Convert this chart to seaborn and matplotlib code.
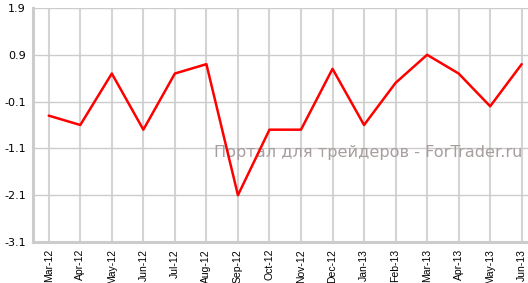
import matplotlib
matplotlib.use("Agg")
import matplotlib.pyplot as plt
import seaborn as sns
import pandas as pd

months = ["Mar-12", "Apr-12", "May-12", "Jun-12", "Jul-12", "Aug-12", "Sep-12", "Oct-12",
          "Nov-12", "Dec-12", "Jan-13", "Feb-13", "Mar-13", "Apr-13", "May-13", "Jun-13"]
values = [-0.4, -0.6, 0.5, -0.7, 0.5, 0.7, -2.1, -0.7, -0.7, 0.6, -0.6, 0.3, 0.9, 0.5, -0.2, 0.7]
yticks = [-3.1, -2.1, -1.1, -0.1, 0.9, 1.9]

df = pd.DataFrame({"month": months, "value": values, "pos": range(len(months))})

sns.set_style("white")
plt.rcParams["font.family"] = ["DejaVu Sans"]

fig = plt.figure(figsize=(5.28, 2.83), dpi=100)
ax = fig.add_axes([33/528, 1 - 242/283, (528 - 33)/528, (242 - 8)/283])

sns.lineplot(data=df, x="pos", y="value", color="#ff0000", linewidth=1.8, ax=ax, zorder=6)

ax.set_xlim(-0.5, 15.2)
ax.set_ylim(-3.1, 1.9)
ax.set_xticks(range(len(months)))
ax.set_xticklabels(months, rotation=90, fontsize=7.5, family="Liberation Sans")
ax.set_yticks(yticks)
ax.set_yticklabels([f"{v:.1f}" for v in yticks], fontsize=8)
ax.set_xlabel("")
ax.set_ylabel("")

ax.grid(True, color="#cccccc", linewidth=1)
ax.xaxis.grid(True, color="#d4d4d4", linewidth=1.5)
ax.set_axisbelow(True)
for s in ["top", "right"]:
    ax.spines[s].set_visible(False)
for s in ["left", "bottom"]:
    ax.spines[s].set_color("#cccccc")
    ax.spines[s].set_linewidth(2.2)
ax.tick_params(axis="both", which="both", length=3.5, width=1, color="#cccccc",
               labelcolor="black", pad=1.5)

ax.text(522/528, 1 - 152/283, "Портал для трейдеров - ForTrader.ru",
        transform=fig.transFigure, ha="right", va="center", fontsize=11.6,
        color="#a89e9e", zorder=3, clip_on=False)

fig.savefig("out.png", dpi=100)
